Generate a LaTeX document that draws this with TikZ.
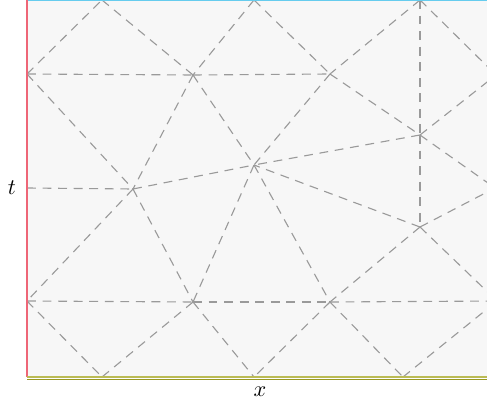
\documentclass[tikz,border=0pt]{standalone}
\usepackage{amsmath,amssymb}
\usepackage{tikz}
\usepackage{xcolor}

\definecolor{meshgray}{HTML}{9A9A9A}
\definecolor{domainfill}{HTML}{F7F7F7}
\definecolor{leftred}{HTML}{EE6677}
\definecolor{topcyan}{HTML}{66CCEE}
\definecolor{botolive}{HTML}{999922}
\definecolor{botlight}{HTML}{BBBB55}

\begin{document}
\begin{tikzpicture}[x=0.45pt,y=-0.45pt,
    meshedge/.style={meshgray, line width=0.5pt, dash pattern=on 4pt off 3pt}]
    \useasboundingbox (0,0) rectangle (487,403);
    \clip (0,0) rectangle (487,403);

    % space-time domain
    \fill[domainfill] (27,0) rectangle (496,377);

    % boundary vertices
    \coordinate (a0) at (27,0);
    \coordinate (a1) at (27,74);
    \coordinate (a2) at (27,188);
    \coordinate (a3) at (27,301);
    \coordinate (a4) at (27,377);
    \coordinate (t1) at (102,0);
    \coordinate (t2) at (254,0);
    \coordinate (t3) at (420,0);
    \coordinate (t4) at (496,0);
    \coordinate (b1) at (102,377);
    \coordinate (b2) at (254,377);
    \coordinate (b3) at (403,377);
    \coordinate (b4) at (496,377);
    \coordinate (r1) at (496,75);
    \coordinate (r2) at (495,188);
    \coordinate (r3) at (497,301);

    % interior vertices
    \coordinate (p1) at (193,75);
    \coordinate (p2) at (330,74);
    \coordinate (p3) at (133,189);
    \coordinate (p4) at (254,165);
    \coordinate (p5) at (420,135);
    \coordinate (p6) at (420,227);
    \coordinate (p7) at (193,302);
    \coordinate (p8) at (330,302);

    % mesh edges
    \foreach \u/\v in {a1/t1, a1/p1, a1/p3, t1/p1, t2/p1, t2/p2, t3/p2,
        t3/p5, t3/r1, p1/p2, p1/p3, p1/p4, p2/p4, p2/p5, p5/r1, p5/r2,
        p5/p4, p5/p6, p6/r2, p6/p4, p6/p8, p6/r3, a2/p3, p3/p4, p3/a3,
        p3/p7, p4/p7, p4/p8, a3/p7, p7/p8, p8/r3, a3/b1, p7/b1, p7/b2,
        p8/b2, p8/b3, b3/r3}
        \draw[meshedge] (\u) -- (\v);

    % boundary pieces
    \draw[topcyan, line width=0.8pt] (a0) -- (t4);
    \draw[leftred, line width=0.8pt] (a0) -- (a4);
    \draw[botlight, line width=0.6pt] (a4) -- (b4);
    \draw[botolive, line width=0.6pt] ([yshift=-1.2pt]a4) -- ([yshift=-1.2pt]b4);

    % axis labels
    \node (tlabel) at (12,188) {$t$};
    \node (xlabel) at (260,392) {$x$};
\end{tikzpicture}
\end{document}
